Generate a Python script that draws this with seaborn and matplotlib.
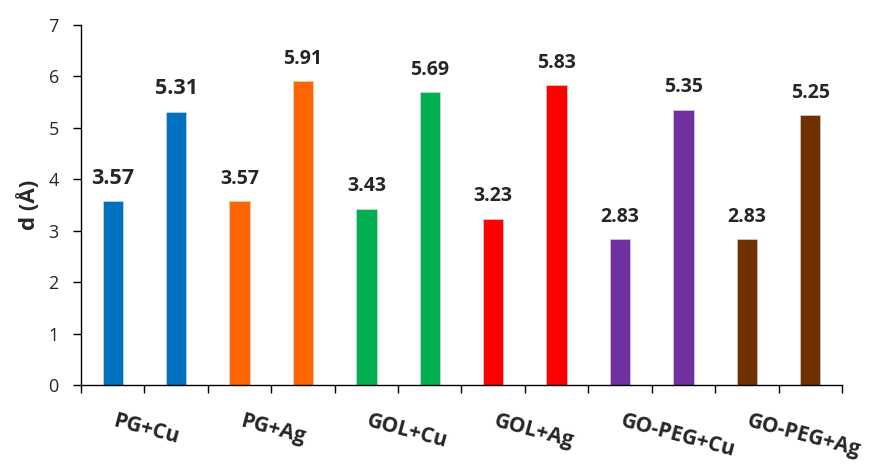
import matplotlib
matplotlib.use("Agg")
import matplotlib.pyplot as plt
import matplotlib.transforms as mtransforms
import seaborn as sns
import pandas as pd
from matplotlib.ticker import FixedLocator, NullFormatter

# Samples and the two measured interlayer distances for each
groups = ["PG+Cu", "PG+Ag", "GOL+Cu", "GOL+Ag", "GO-PEG+Cu", "GO-PEG+Ag"]
d_first = [3.57, 3.57, 3.43, 3.23, 2.83, 2.83]
d_second = [5.31, 5.91, 5.69, 5.83, 5.35, 5.25]
group_colors = ["#0070C0", "#FF6600", "#00B050", "#FF0000", "#7030A0", "#703000"]

rows = []
for g, a, b in zip(groups, d_first, d_second):
    rows.append({"bar": f"{g} (1)", "group": g, "d": a})
    rows.append({"bar": f"{g} (2)", "group": g, "d": b})
df = pd.DataFrame(rows)
bar_palette = {r["bar"]: group_colors[groups.index(r["group"])] for r in rows}

sns.set_theme(style="ticks")
plt.rcParams["font.family"] = ["Open Sans", "DejaVu Sans"]

fig = plt.figure(figsize=(8.75, 4.66), dpi=100)
ax = fig.add_axes([81 / 875, 1 - 385 / 466, (842 - 81) / 875, (385 - 25) / 466])

sns.barplot(data=df, x="bar", y="d", hue="bar", palette=bar_palette,
            width=0.32, legend=False, ax=ax, saturation=1,
            edgecolor="#DDDDDD", linewidth=0.4)

ax.set_xlim(-0.5, len(df) - 0.5)
ax.set_ylim(0, 7)
ax.set_yticks(range(0, 8))

# tick marks on every bar boundary; group names are drawn separately below
ax.xaxis.set_major_locator(FixedLocator([i - 0.5 for i in range(len(df) + 1)]))
ax.xaxis.set_major_formatter(NullFormatter())
ax.tick_params(axis="x", which="major", length=6, width=1, color="black")
ax.tick_params(axis="y", length=6, width=1, labelsize=13, color="black", pad=10)

# slanted group names, each starting a little left of its group's centre tick
name_offset = mtransforms.ScaledTranslation(-28 / 100, -26 / 100, fig.dpi_scale_trans)
name_trans = ax.get_xaxis_transform() + name_offset
for i, g in enumerate(groups):
    ax.text(2 * i + 0.5, 0, g, transform=name_trans, rotation=-15,
            rotation_mode="anchor", ha="left", va="top",
            fontsize=15, fontweight="bold")

ax.set_xlabel("")
ax.set_ylabel("d (Å)", fontsize=16, fontweight="bold", labelpad=6)

for side in ["top", "right"]:
    ax.spines[side].set_visible(False)
for side in ["left", "bottom"]:
    ax.spines[side].set_color("black")
    ax.spines[side].set_linewidth(1)

for i, container in enumerate(ax.containers):
    size = 15.5 if i < 2 else 14
    ax.bar_label(container, fmt="%.2f", padding=9, fontsize=size, fontweight="bold")

fig.savefig("out.png", dpi=100)
